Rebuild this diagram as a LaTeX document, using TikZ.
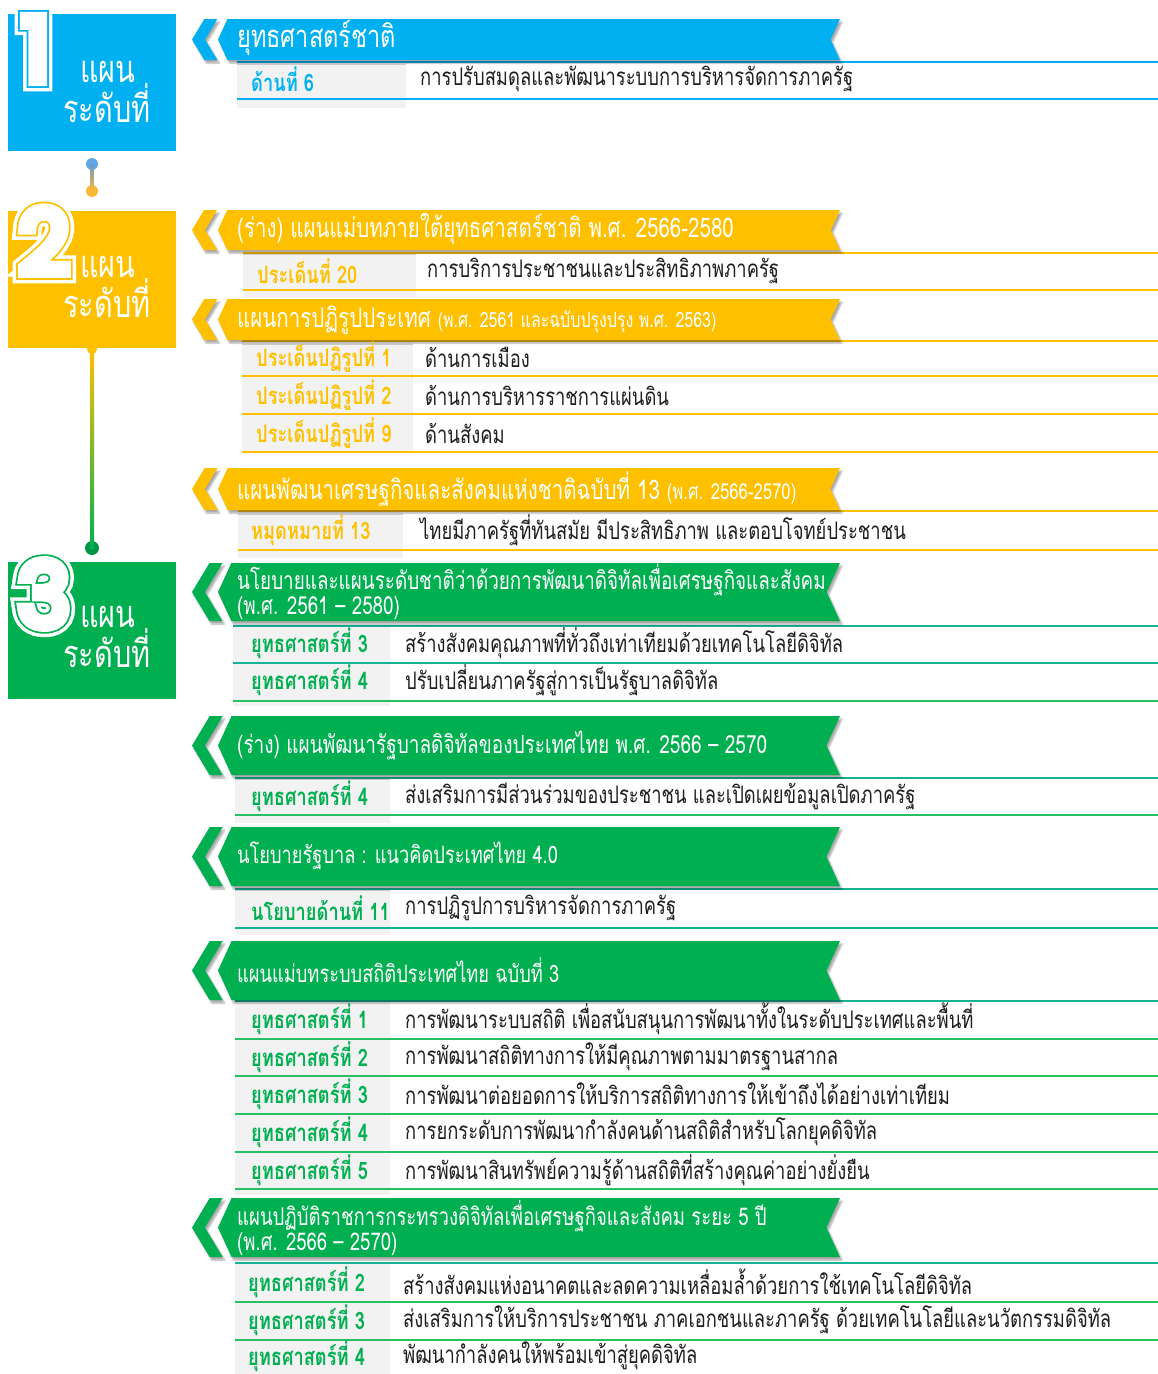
\documentclass[tikz,border=0pt]{standalone}
\usepackage{fontspec}
\usetikzlibrary{calc, positioning, shadows.blur}
\newfontfamily\thai[Script=Thai, FakeStretch=0.76]{Loma}
\newfontfamily\numhalo{Poppins}[FakeBold=24]
\newfontfamily\numrim{Poppins}[FakeBold=16]
\newfontfamily\numfill{Poppins}[FakeBold=12]

\definecolor{lvlblue}{RGB}{0,176,240}
\definecolor{lvlyellow}{RGB}{255,192,0}
\definecolor{lvlgreen}{RGB}{0,176,80}
\definecolor{lineteal}{RGB}{22,178,150}
\definecolor{linegreen}{RGB}{40,190,100}
\definecolor{cellgray}{RGB}{242,242,242}
\definecolor{bodytext}{RGB}{30,30,30}
\definecolor{dotblue}{RGB}{93,169,233}
\definecolor{dotorange}{RGB}{251,185,52}

\tikzstyle{levelbox} = [rectangle, anchor=north west, minimum width=168pt, minimum height=137pt, inner sep=0pt]
\tikzstyle{leveltext} = [font=\thai\fontsize{38}{40}\selectfont, text=white, align=center, inner sep=0pt]
\tikzstyle{bignum} = [inner sep=0pt]
\tikzstyle{bannertext} = [anchor=west, font=\thai\fontsize{27}{29}\selectfont, text=white, inner sep=0pt, align=left]
\tikzstyle{tagcell} = [rectangle, anchor=north west, fill=cellgray, inner sep=0pt]
\tikzstyle{rowtag} = [anchor=west, font=\thai\bfseries\fontsize{24}{26}\selectfont, inner sep=0pt]
\tikzstyle{rowtext} = [anchor=west, font=\thai\fontsize{24.2}{26}\selectfont, text=bodytext, inner sep=0pt]
\tikzstyle{rowline} = [line width=2.4pt]
\tikzstyle{dot} = [circle, inner sep=0pt, minimum size=13pt]
\tikzstyle{ribshadow} = [blur shadow={shadow xshift=2pt, shadow yshift=-3pt, shadow opacity=35, shadow blur steps=6}]

% white numeral with coloured rim, cut out of the box
\newcommand{\levelnum}[2]{\fontsize{88}{88}\selectfont
  \rlap{\numhalo\textcolor{white}{#2}}\rlap{\numrim\textcolor{#1}{#2}}{\numfill\textcolor{white}{#2}}}

% ribbon with chevron: #1 top, #2 bottom, #3 colour
\newcommand{\ribbon}[3]{%
  \pgfmathsetmacro{\rmid}{(#1+#2)/2}%
  \pgfmathsetmacro{\rd}{0.3*(#2-#1)}%
  \pgfmathsetmacro{\rn}{0.23*(#2-#1)}%
  \fill[#3, ribshadow] (192,\rmid) -- ({192+\rd},#1) -- ({205+\rd},#1) -- (205,\rmid) -- ({205+\rd},#2) -- ({192+\rd},#2) -- cycle;
  \fill[#3, ribshadow] (218,\rmid) -- ({218+\rn},#1) -- (840,#1) -- ({840-\rn},\rmid) -- (840,#2) -- ({218+\rn},#2) -- cycle;
}

\begin{document}
\begin{tikzpicture}[x=1pt, y=-1pt]

    \useasboundingbox (0,0) rectangle (1158,1374);

    % Level boxes
    \node (lvl1) [levelbox, fill=lvlblue] at (8,14) {};
    \node (lvl2) [levelbox, fill=lvlyellow] at (8,211) {};
    \node (lvl3) [levelbox, fill=lvlgreen] at (8,562) {};

    \node (num1) [bignum] at (36,49) {\levelnum{lvlblue}{1}};
    \node (num2) [bignum] at (44,241) {\levelnum{lvlyellow}{2}};
    \node (num3) [bignum] at (44,594) {\levelnum{lvlgreen}{3}};

    \node (lvl1txt) [leveltext] at (107,92) {\hspace*{2pt}แผน\\ระดับที่};
    \node (lvl2txt) [leveltext] at (107,287) {\hspace*{2pt}แผน\\ระดับที่};
    \node (lvl3txt) [leveltext] at (107,637) {\hspace*{2pt}แผน\\ระดับที่};

    % Timeline between the boxes
    \node (d1) [dot, fill=dotblue, minimum size=12pt] at (92,164) {};
    \node (d2) [dot, fill=dotorange, minimum size=12pt] at (92,191) {};
    \shade[top color=dotblue!70!gray, bottom color=dotorange] ($(d1.center)+(-1.5,0)$) rectangle ($(d2.center)+(1.5,0)$);
    \node (d3) [dot, fill=lvlyellow, minimum size=10pt] at (92,349) {};
    \node (d4) [dot, fill=lvlgreen!85!black, minimum size=14pt] at (92,548) {};
    \shade[top color=lvlyellow, bottom color=lvlgreen] ($(d3.center)+(-2,0)$) rectangle ($(d4.center)+(2,0)$);

    % Tag cells
    \node (c1) [tagcell, minimum width=169pt, minimum height=46pt] at (237,62) {};
    \node (c2a) [tagcell, minimum width=173pt, minimum height=44pt] at (243,253) {};
    \node (c2b) [tagcell, minimum width=171pt, minimum height=110pt] at (242,341) {};
    \node (c2c) [tagcell, minimum width=165pt, minimum height=47pt] at (238,511) {};
    \node (c3a) [tagcell, minimum width=157pt, minimum height=80pt] at (233,626) {};
    \node (c3b) [tagcell, minimum width=155pt, minimum height=45pt] at (235,778) {};
    \node (c3c) [tagcell, minimum width=155pt, minimum height=46pt] at (235,889) {};
    \node (c3d) [tagcell, minimum width=155pt, minimum height=194pt] at (235,1001) {};
    \node (c3e) [tagcell, minimum width=155pt, minimum height=111pt] at (235,1263) {};

    % Rules
    \draw[rowline, lvlblue] (237,62) -- (1158,62);
    \draw[rowline, lvlblue] (237,99) -- (1158,99);
    \draw[rowline, lvlyellow] (243,253) -- (1158,253);
    \draw[rowline, lvlyellow] (243,290) -- (1158,290);
    \draw[rowline, lvlyellow] (242,341) -- (1158,341);
    \draw[rowline, lvlyellow] (242,376) -- (1158,376);
    \draw[rowline, lvlyellow] (242,414) -- (1158,414);
    \draw[rowline, lvlyellow] (242,452) -- (1158,452);
    \draw[rowline, lvlyellow] (238,511) -- (1158,511);
    \draw[rowline, lvlyellow] (238,550) -- (1158,550);
    \draw[rowline, lineteal] (233,626) -- (1158,626);
    \draw[rowline, lineteal] (233,663) -- (1158,663);
    \draw[rowline, linegreen] (233,701) -- (1158,701);
    \draw[rowline, lineteal] (235,778) -- (1158,778);
    \draw[rowline, linegreen] (235,815) -- (1158,815);
    \draw[rowline, lineteal] (235,889) -- (1158,889);
    \draw[rowline, lineteal] (235,928) -- (1158,928);
    \draw[rowline, lineteal] (235,1001) -- (1158,1001);
    \draw[rowline, linegreen] (235,1039) -- (1158,1039);
    \draw[rowline, linegreen] (235,1076) -- (1158,1076);
    \draw[rowline, linegreen] (235,1114) -- (1158,1114);
    \draw[rowline, linegreen] (235,1152) -- (1158,1152);
    \draw[rowline, linegreen] (235,1189) -- (1158,1189);
    \draw[rowline, lineteal] (235,1263) -- (1158,1263);
    \draw[rowline, linegreen] (235,1302) -- (1158,1302);
    \draw[rowline, linegreen] (235,1340) -- (1158,1340);

    % Ribbons
    \ribbon{19}{60}{lvlblue}
    \ribbon{210}{250}{lvlyellow}
    \ribbon{299}{340}{lvlyellow}
    \ribbon{468}{510}{lvlyellow}
    \ribbon{563}{621}{lvlgreen}
    \ribbon{716}{775}{lvlgreen}
    \ribbon{827}{886}{lvlgreen}
    \ribbon{941}{1000}{lvlgreen}
    \ribbon{1198}{1257}{lvlgreen}

    \node (b1) [bannertext, font=\thai\fontsize{31}{33}\selectfont] at (237,38) {ยุทธศาสตร์ชาติ};
    \node (b2a) [bannertext] at (237,229) {(ร่าง) แผนแม่บทภายใต้ยุทธศาสตร์ชาติ พ.ศ. 2566-2580};
    \node (b2b) [bannertext] at (237,320) {แผนการปฏิรูปประเทศ {\fontsize{21}{23}\selectfont (พ.ศ. 2561 และฉบับปรุงปรุง พ.ศ. 2563)}};
    \node (b2c) [bannertext] at (237,489) {แผนพัฒนาเศรษฐกิจและสังคมแห่งชาติฉบับที่ 13 {\fontsize{22}{23}\selectfont (พ.ศ. 2566-2570)}};
    \node (b3a) [bannertext, font=\thai\fontsize{24.8}{25}\selectfont] at (237,592) {นโยบายและแผนระดับชาติว่าด้วยการพัฒนาดิจิทัลเพื่อเศรษฐกิจและสังคม\\(พ.ศ. 2561 – 2580)};
    \node (b3b) [bannertext, font=\thai\fontsize{25}{25}\selectfont] at (237,746) {(ร่าง) แผนพัฒนารัฐบาลดิจิทัลของประเทศไทย พ.ศ. 2566 – 2570};
    \node (b3c) [bannertext, font=\thai\fontsize{24}{25}\selectfont] at (237,856) {นโยบายรัฐบาล : แนวคิดประเทศไทย 4.0};
    \node (b3d) [bannertext, font=\thai\fontsize{24}{25}\selectfont] at (237,970) {แผนแม่บทระบบสถิติประเทศไทย ฉบับที่ 3};
    \node (b3e) [bannertext, font=\thai\fontsize{24.4}{25}\selectfont] at (237,1228) {แผนปฏิบัติราชการกระทรวงดิจิทัลเพื่อเศรษฐกิจและสังคม ระยะ 5 ปี\\(พ.ศ. 2566 – 2570)};

    % Level 1 rows
    \node (g11) [rowtag, text=lvlblue] at (251,79) {ด้านที่ 6};
    \node (t11) [rowtext] at (420,79) {การปรับสมดุลและพัฒนาระบบการบริหารจัดการภาครัฐ};

    % Level 2 rows
    \node (g21) [rowtag, text=lvlyellow] at (257,271) {ประเด็นที่ 20};
    \node (t21) [rowtext] at (427,271) {การบริการประชาชนและประสิทธิภาพภาครัฐ};
    \node (g22) [rowtag, text=lvlyellow] at (256,357) {ประเด็นปฏิรูปที่ 1};
    \node (t22) [rowtext] at (425,357) {ด้านการเมือง};
    \node (g23) [rowtag, text=lvlyellow] at (256,395) {ประเด็นปฏิรูปที่ 2};
    \node (t23) [rowtext] at (425,395) {ด้านการบริหารราชการแผ่นดิน};
    \node (g24) [rowtag, text=lvlyellow] at (256,433) {ประเด็นปฏิรูปที่ 9};
    \node (t24) [rowtext] at (425,433) {ด้านสังคม};
    \node (g25) [rowtag, text=lvlyellow] at (251,530) {หมุดหมายที่ 13};
    \node (t25) [rowtext] at (420,530) {ไทยมีภาครัฐที่ทันสมัย มีประสิทธิภาพ และตอบโจทย์ประชาชน};

    % Level 3 rows
    \node (g31) [rowtag, text=lvlgreen] at (251,643) {ยุทธศาสตร์ที่ 3};
    \node (t31) [rowtext] at (405,643) {สร้างสังคมคุณภาพที่ทั่วถึงเท่าเทียมด้วยเทคโนโลยีดิจิทัล};
    \node (g32) [rowtag, text=lvlgreen] at (251,680) {ยุทธศาสตร์ที่ 4};
    \node (t32) [rowtext] at (405,680) {ปรับเปลี่ยนภาครัฐสู่การเป็นรัฐบาลดิจิทัล};
    \node (g33) [rowtag, text=lvlgreen] at (251,796) {ยุทธศาสตร์ที่ 4};
    \node (t33) [rowtext] at (405,796) {ส่งเสริมการมีส่วนร่วมของประชาชน และเปิดเผยข้อมูลเปิดภาครัฐ};
    \node (g34) [rowtag, text=lvlgreen] at (251,908) {นโยบายด้านที่ 11};
    \node (t34) [rowtext] at (405,908) {การปฏิรูปการบริหารจัดการภาครัฐ};
    \node (g35) [rowtag, text=lvlgreen] at (251,1019) {ยุทธศาสตร์ที่ 1};
    \node (t35) [rowtext] at (405,1019) {การพัฒนาระบบสถิติ เพื่อสนับสนุนการพัฒนาทั้งในระดับประเทศและพื้นที่};
    \node (g36) [rowtag, text=lvlgreen] at (251,1057) {ยุทธศาสตร์ที่ 2};
    \node (t36) [rowtext] at (405,1057) {การพัฒนาสถิติทางการให้มีคุณภาพตามมาตรฐานสากล};
    \node (g37) [rowtag, text=lvlgreen] at (251,1094) {ยุทธศาสตร์ที่ 3};
    \node (t37) [rowtext] at (405,1094) {การพัฒนาต่อยอดการให้บริการสถิติทางการให้เข้าถึงได้อย่างเท่าเทียม};
    \node (g38) [rowtag, text=lvlgreen] at (251,1132) {ยุทธศาสตร์ที่ 4};
    \node (t38) [rowtext] at (405,1132) {การยกระดับการพัฒนากำลังคนด้านสถิติสำหรับโลกยุคดิจิทัล};
    \node (g39) [rowtag, text=lvlgreen] at (251,1170) {ยุทธศาสตร์ที่ 5};
    \node (t39) [rowtext] at (405,1170) {การพัฒนาสินทรัพย์ความรู้ด้านสถิติที่สร้างคุณค่าอย่างยั่งยืน};
    \node (g310) [rowtag, text=lvlgreen] at (248,1282) {ยุทธศาสตร์ที่ 2};
    \node (t310) [rowtext] at (403,1282) {สร้างสังคมแห่งอนาคตและลดความเหลื่อมล้ำด้วยการใช้เทคโนโลยีดิจิทัล};
    \node (g311) [rowtag, text=lvlgreen] at (248,1320) {ยุทธศาสตร์ที่ 3};
    \node (t311) [rowtext] at (403,1320) {ส่งเสริมการให้บริการประชาชน ภาคเอกชนและภาครัฐ ด้วยเทคโนโลยีและนวัตกรรมดิจิทัล};
    \node (g312) [rowtag, text=lvlgreen] at (248,1356) {ยุทธศาสตร์ที่ 4};
    \node (t312) [rowtext] at (403,1356) {พัฒนากำลังคนให้พร้อมเข้าสู่ยุคดิจิทัล};

\end{tikzpicture}
\end{document}
